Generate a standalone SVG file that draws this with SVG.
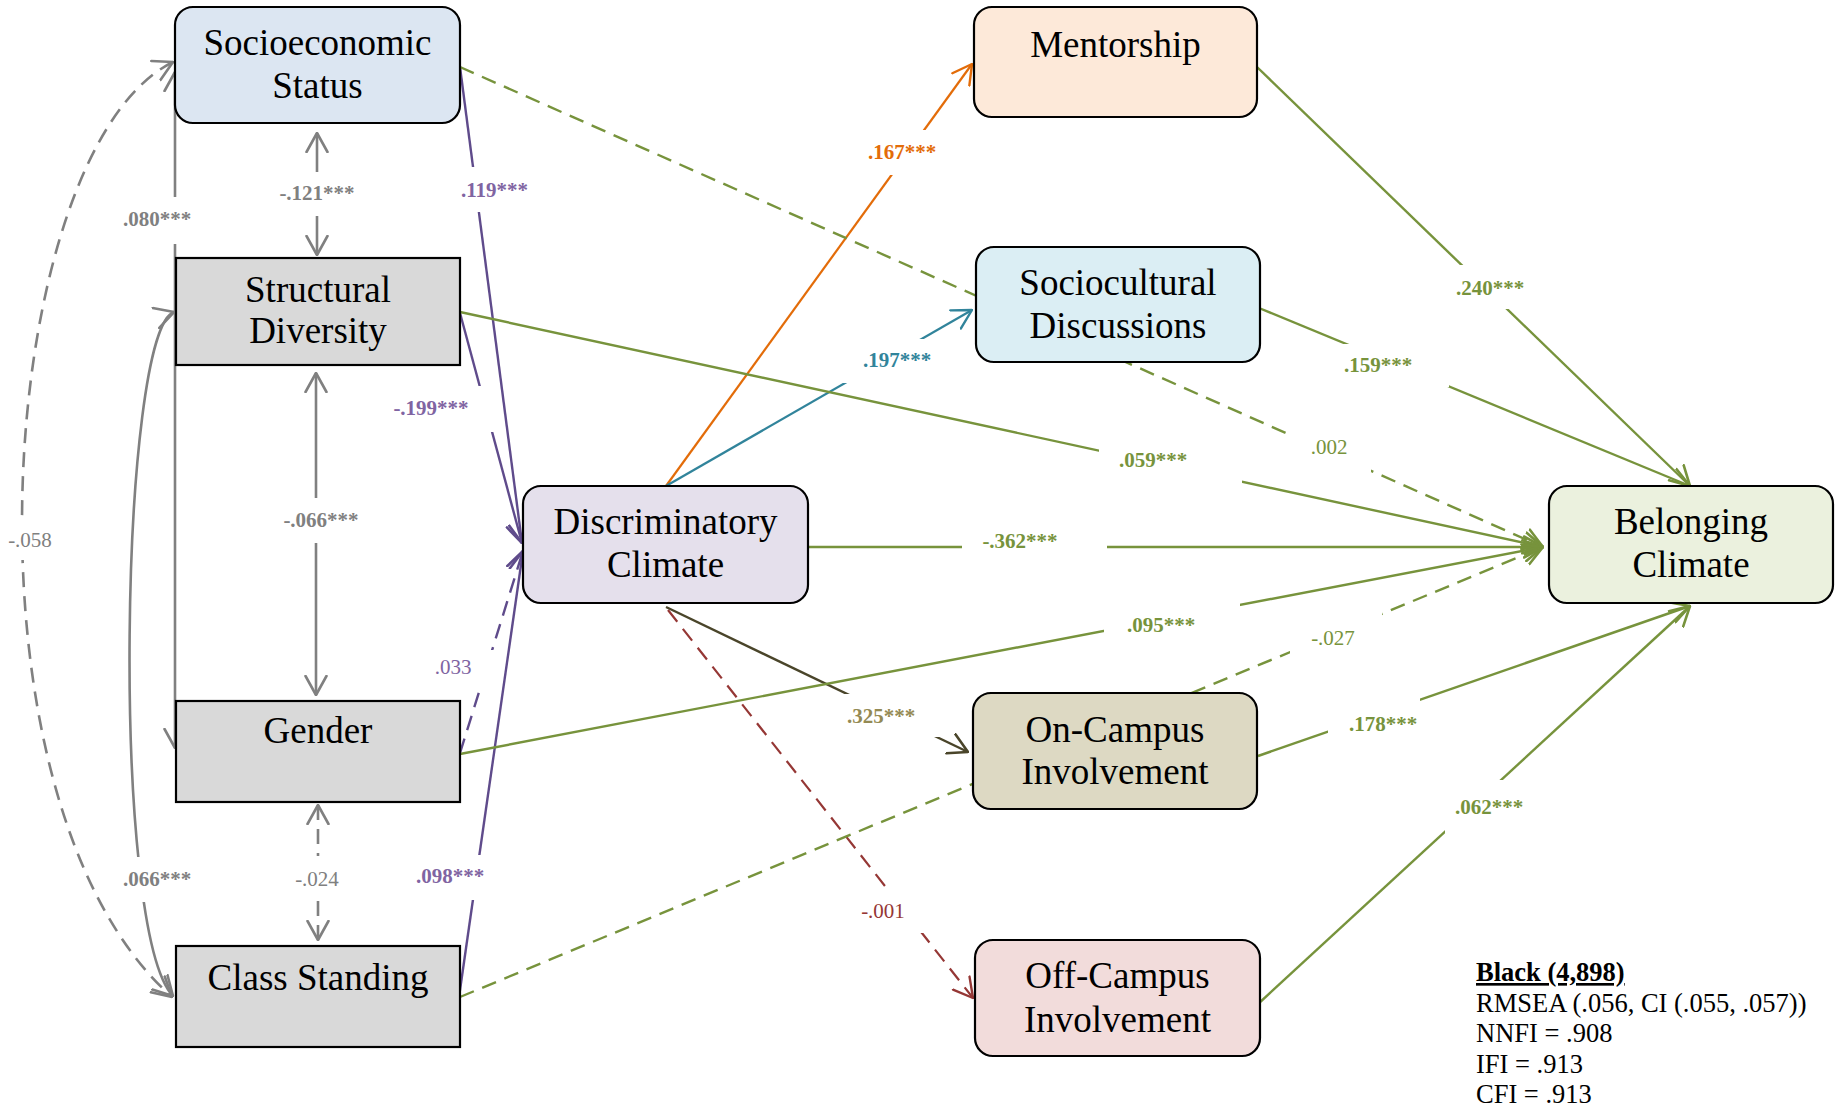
<svg xmlns="http://www.w3.org/2000/svg" width="1839" height="1109" viewBox="0 0 1839 1109">
<style>
.node rect{stroke:#000;stroke-width:2.2}
.nt{font-family:"Liberation Serif","Times New Roman",serif;font-size:37px;fill:#000;text-anchor:middle}
.c{fill:none;stroke-linecap:butt}
.gray{stroke:#808080;stroke-width:2.6}
.pur{stroke:#5f4b8b;stroke-width:2.4}
.org{stroke:#e36c09;stroke-width:2.2}
.teal{stroke:#31849b;stroke-width:2.2}
.grn{stroke:#77933c;stroke-width:2.4}
.olv{stroke:#4a452a;stroke-width:2.4}
.red{stroke:#953735;stroke-width:2.2}
.dash{stroke-dasharray:15 9}
.lb{font-family:"Liberation Serif","Times New Roman",serif;font-size:21px;text-anchor:middle}
.b{font-weight:bold}
.bg{fill:#fff}
.leg{font-family:"Liberation Serif","Times New Roman",serif;font-size:26.5px;fill:#000}
</style>
<defs>
<marker id="aGray" markerUnits="userSpaceOnUse" viewBox="0 0 21 24" refX="20" refY="12" markerWidth="21" markerHeight="24" orient="auto-start-reverse"><path d="M1,1.5 L20,12 L1,22.5" fill="none" stroke="#808080" stroke-width="2.6" stroke-linejoin="round" stroke-linecap="round"/></marker>
<marker id="aPur" markerUnits="userSpaceOnUse" viewBox="0 0 21 24" refX="20" refY="12" markerWidth="21" markerHeight="24" orient="auto-start-reverse"><path d="M1,1.5 L20,12 L1,22.5" fill="none" stroke="#5f4b8b" stroke-width="2.6" stroke-linejoin="round" stroke-linecap="round"/></marker>
<marker id="aOrg" markerUnits="userSpaceOnUse" viewBox="0 0 21 24" refX="20" refY="12" markerWidth="21" markerHeight="24" orient="auto-start-reverse"><path d="M1,1.5 L20,12 L1,22.5" fill="none" stroke="#e36c09" stroke-width="2.4" stroke-linejoin="round" stroke-linecap="round"/></marker>
<marker id="aTeal" markerUnits="userSpaceOnUse" viewBox="0 0 21 24" refX="20" refY="12" markerWidth="21" markerHeight="24" orient="auto-start-reverse"><path d="M1,1.5 L20,12 L1,22.5" fill="none" stroke="#31849b" stroke-width="2.4" stroke-linejoin="round" stroke-linecap="round"/></marker>
<marker id="aGrn" markerUnits="userSpaceOnUse" viewBox="0 0 21 24" refX="20" refY="12" markerWidth="21" markerHeight="24" orient="auto-start-reverse"><path d="M1,1.5 L20,12 L1,22.5" fill="none" stroke="#77933c" stroke-width="2.6" stroke-linejoin="round" stroke-linecap="round"/></marker>
<marker id="aOlv" markerUnits="userSpaceOnUse" viewBox="0 0 21 24" refX="20" refY="12" markerWidth="21" markerHeight="24" orient="auto-start-reverse"><path d="M1,1.5 L20,12 L1,22.5" fill="none" stroke="#4a452a" stroke-width="2.6" stroke-linejoin="round" stroke-linecap="round"/></marker>
<marker id="aRed" markerUnits="userSpaceOnUse" viewBox="0 0 21 24" refX="20" refY="12" markerWidth="21" markerHeight="24" orient="auto-start-reverse"><path d="M1,1.5 L20,12 L1,22.5" fill="none" stroke="#953735" stroke-width="2.4" stroke-linejoin="round" stroke-linecap="round"/></marker>
</defs>
<rect width="1839" height="1109" fill="#fff"/>
<g id="connectors">
<path class="c gray" d="M317,133 L317,255" marker-start="url(#aGray)" marker-end="url(#aGray)"/>
<path class="c gray" d="M316,373 L316,695" marker-start="url(#aGray)" marker-end="url(#aGray)"/>
<path class="c gray dash" d="M318,805 L318,940" marker-start="url(#aGray)" marker-end="url(#aGray)"/>
<path class="c gray" d="M175,72 L175,748" marker-start="url(#aGray)" marker-end="url(#aGray)"/>
<path class="c gray" d="M174,312 C120,330 110,930 173,996" marker-start="url(#aGray)" marker-end="url(#aGray)"/>
<path class="c gray dash" d="M173,62 C-5,150 -50,800 172,997" marker-start="url(#aGray)" marker-end="url(#aGray)"/>
<path class="c pur" d="M460,67 L522,543" marker-end="url(#aPur)"/>
<path class="c pur" d="M460,313 L522,543" marker-end="url(#aPur)"/>
<path class="c pur dash" d="M460,753 L523,551" marker-end="url(#aPur)"/>
<path class="c pur" d="M459,997 L523,551" marker-end="url(#aPur)"/>
<path class="c org" d="M666,486 L972,64" marker-end="url(#aOrg)"/>
<path class="c teal" d="M666,486 L972,310" marker-end="url(#aTeal)"/>
<path class="c olv" d="M666,607 L968,752" marker-end="url(#aOlv)"/>
<path class="c red dash" d="M668,610 L973,998" marker-end="url(#aRed)"/>
<path class="c grn dash" d="M460,67 L1543,547" marker-end="url(#aGrn)"/>
<path class="c grn" d="M460,312 L1543,547" marker-end="url(#aGrn)"/>
<path class="c grn" d="M808,547 L1543,547" marker-end="url(#aGrn)"/>
<path class="c grn" d="M460,754 L1543,547" marker-end="url(#aGrn)"/>
<path class="c grn dash" d="M460,997 L1543,547" marker-end="url(#aGrn)"/>
<path class="c grn" d="M1257,67 L1690,486" marker-end="url(#aGrn)"/>
<path class="c grn" d="M1259,308 L1690,486" marker-end="url(#aGrn)"/>
<path class="c grn" d="M1258,756 L1690,606" marker-end="url(#aGrn)"/>
<path class="c grn" d="M1258,1004 L1690,606" marker-end="url(#aGrn)"/>
</g>
<g id="labels">
<rect class="bg" x="455" y="167" width="80" height="45"/><text class="lb b" x="494.5" y="197" fill="#8064a2">.119***</text>
<rect class="bg" x="385" y="386" width="110" height="46"/><text class="lb b" x="431" y="415" fill="#8064a2">-.199***</text>
<rect class="bg" x="430" y="650" width="65" height="40"/><text class="lb" x="453" y="674" fill="#8064a2">.033</text>
<rect class="bg" x="410" y="855" width="78" height="45"/><text class="lb b" x="450" y="883" fill="#8064a2">.098***</text>
<rect class="bg" x="118" y="197" width="78" height="47"/><text class="lb b" x="157" y="226" fill="#808080">.080***</text>
<rect class="bg" x="275" y="172" width="85" height="44"/><text class="lb b" x="317" y="200" fill="#808080">-.121***</text>
<rect class="bg" x="280" y="498" width="85" height="45"/><text class="lb b" x="321" y="527" fill="#808080">-.066***</text>
<rect class="bg" x="4" y="518" width="52" height="42"/><text class="lb" x="30" y="547" fill="#808080">-.058</text>
<rect class="bg" x="118" y="857" width="78" height="45"/><text class="lb b" x="157" y="886" fill="#808080">.066***</text>
<rect class="bg" x="290" y="856" width="55" height="42"/><text class="lb" x="317" y="886" fill="#808080">-.024</text>
<rect class="bg" x="862" y="130" width="78" height="45"/><text class="lb b" x="902" y="159" fill="#e36c09">.167***</text>
<rect class="bg" x="840" y="339" width="95" height="44"/><text class="lb b" x="897" y="367" fill="#31849b">.197***</text>
<rect class="bg" x="962" y="525" width="145" height="45"/><text class="lb b" x="1020" y="548" fill="#77933c">-.362***</text>
<rect class="bg" x="1099" y="440" width="143" height="50"/><text class="lb b" x="1153" y="467" fill="#77933c">.059***</text>
<rect class="bg" x="1104" y="600" width="136" height="42"/><text class="lb b" x="1161" y="632" fill="#77933c">.095***</text>
<rect class="bg" x="840" y="694" width="105" height="43"/><text class="lb b" x="881" y="723" fill="#948a54">.325***</text>
<rect class="bg" x="855" y="888" width="75" height="45"/><text class="lb" x="883" y="918" fill="#953735">-.001</text>
<rect class="bg" x="1450" y="265" width="80" height="44"/><text class="lb b" x="1490" y="295" fill="#77933c">.240***</text>
<rect class="bg" x="1340" y="344" width="109" height="43"/><text class="lb b" x="1378" y="372" fill="#77933c">.159***</text>
<rect class="bg" x="1290" y="430" width="81" height="42"/><text class="lb" x="1329" y="454" fill="#77933c">.002</text>
<rect class="bg" x="1290" y="612" width="92" height="50"/><text class="lb" x="1333" y="645" fill="#77933c">-.027</text>
<rect class="bg" x="1328" y="698" width="92" height="42"/><text class="lb b" x="1383" y="731" fill="#77933c">.178***</text>
<rect class="bg" x="1445" y="780" width="85" height="54"/><text class="lb b" x="1489" y="814" fill="#77933c">.062***</text>
</g>
<g id="node-ses" class="node"><rect x="175" y="7" width="285" height="116" rx="18" fill="#dce6f2"/><text class="nt" x="317.5" y="55">Socioeconomic</text><text class="nt" x="317.5" y="98">Status</text></g>
<g id="node-sd" class="node"><rect x="176" y="258" width="284" height="107" fill="#d9d9d9"/><text class="nt" x="318" y="302">Structural</text><text class="nt" x="318" y="343">Diversity</text></g>
<g id="node-gender" class="node"><rect x="176" y="701" width="284" height="101" fill="#d9d9d9"/><text class="nt" x="318" y="743">Gender</text></g>
<g id="node-cs" class="node"><rect x="176" y="946" width="284" height="101" fill="#d9d9d9"/><text class="nt" x="318" y="990">Class Standing</text></g>
<g id="node-dc" class="node"><rect x="523" y="486" width="285" height="117" rx="18" fill="#e5e0ec"/><text class="nt" x="665.5" y="534">Discriminatory</text><text class="nt" x="665.5" y="577">Climate</text></g>
<g id="node-ment" class="node"><rect x="974" y="7" width="283" height="110" rx="18" fill="#fde9d9"/><text class="nt" x="1115.5" y="57">Mentorship</text></g>
<g id="node-socio" class="node"><rect x="976" y="247" width="284" height="115" rx="18" fill="#dbeef4"/><text class="nt" x="1118" y="295">Sociocultural</text><text class="nt" x="1118" y="338">Discussions</text></g>
<g id="node-onc" class="node"><rect x="973" y="693" width="284" height="116" rx="18" fill="#ddd9c3"/><text class="nt" x="1115" y="742">On-Campus</text><text class="nt" x="1115" y="784">Involvement</text></g>
<g id="node-offc" class="node"><rect x="975" y="940" width="285" height="116" rx="18" fill="#f2dcdb"/><text class="nt" x="1117.5" y="988">Off-Campus</text><text class="nt" x="1117.5" y="1032">Involvement</text></g>
<g id="node-bel" class="node"><rect x="1549" y="486" width="284" height="117" rx="18" fill="#ebf1de"/><text class="nt" x="1691" y="534">Belonging</text><text class="nt" x="1691" y="577">Climate</text></g>
<g id="legend">
<text class="leg" x="1476" y="981" font-weight="bold" text-decoration="underline">Black (4,898)</text>
<text class="leg" x="1476" y="1012">RMSEA (.056, CI (.055, .057))</text>
<text class="leg" x="1476" y="1042">NNFI = .908</text>
<text class="leg" x="1476" y="1073">IFI = .913</text>
<text class="leg" x="1476" y="1103">CFI = .913</text>
</g>
</svg>
